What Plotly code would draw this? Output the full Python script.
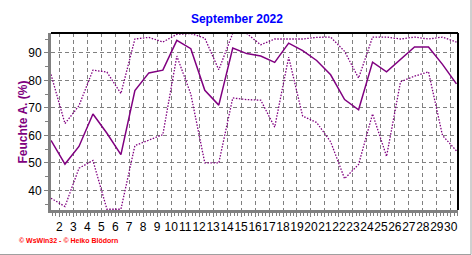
import plotly.graph_objects as go

days = list(range(1, 31))
tick_labels = [str(d) for d in range(2, 31)]
mean_vals = [58.2, 49.6, 56.0, 67.8, 60.8, 53.0, 76.3, 82.7, 83.7, 94.5,
             91.5, 76.4, 71.0, 91.7, 89.7, 88.8, 86.5, 93.5, 90.8, 87.2,
             82.0, 73.0, 69.3, 86.6, 83.1, 87.6, 92.1, 92.1, 85.8, 78.7]
max_vals = [82.1, 64.3, 70.8, 83.7, 83.0, 75.2, 95.0, 95.6, 93.9, 96.7,
            97.0, 95.3, 83.8, 97.1, 97.0, 92.9, 95.0, 95.0, 95.0, 95.6,
            95.7, 90.5, 80.8, 95.7, 95.7, 95.0, 95.7, 95.0, 95.7, 93.9]
min_vals = [37.2, 34.2, 48.1, 50.9, 33.2, 33.2, 56.3, 58.2, 60.3, 88.8,
            75.0, 50.0, 50.0, 73.6, 73.0, 72.8, 63.0, 88.4, 67.0, 64.7,
            57.7, 44.3, 49.5, 67.8, 52.4, 79.5, 81.5, 83.1, 60.0, 54.4]
y_ticks = [40, 50, 60, 70, 80, 90]

purple = "#800080"
tick_offset = 0.406
tickvals = [int(t) - tick_offset for t in tick_labels]
minor_vals = [1 + i * 0.25 - tick_offset for i in range(0, 122)]

fig = go.Figure()
fig.add_trace(go.Scatter(x=days, y=max_vals, mode="lines",
                         line=dict(color=purple, width=1.3, dash="1.5px,1.5px"),
                         hoverinfo="skip"))
fig.add_trace(go.Scatter(x=days, y=min_vals, mode="lines",
                         line=dict(color=purple, width=1.3, dash="1.5px,1.5px"),
                         hoverinfo="skip"))
fig.add_trace(go.Scatter(x=days, y=mean_vals, mode="lines",
                         line=dict(color=purple, width=1.5),
                         hoverinfo="skip"))

font_name = "Liberation Sans, Arial, sans-serif"

fig.update_layout(
    width=472, height=255,
    margin=dict(l=51, r=14, t=33, b=45),
    paper_bgcolor="white", plot_bgcolor="white",
    showlegend=False,
    font=dict(family=font_name, size=12, color="black"),
    title=dict(text="<b>September 2022</b>", x=0.502, xanchor="center",
               y=1 - 19 / 255, yanchor="middle",
               font=dict(family=font_name, size=12, color="#0000FF")),
    xaxis=dict(range=[1, 30.11], tickmode="array", tickvals=tickvals,
               ticktext=tick_labels, tickangle=0, showgrid=True,
               gridcolor="#808080",
               griddash="4px,3px", gridwidth=1, zeroline=False,
               showline=True, linecolor="#808080", linewidth=3,
               ticks="outside", ticklen=4, tickcolor="#808080", tickwidth=1,
               minor=dict(tickmode="array", tickvals=minor_vals, ticks="outside",
                          ticklen=3, tickcolor="#808080", tickwidth=1,
                          showgrid=False),
               tickfont=dict(family=font_name, size=12, color="black"),
               fixedrange=True),
    yaxis=dict(range=[32.93, 97.18], tickmode="array", tickvals=y_ticks,
               showgrid=True, gridcolor="#808080", griddash="4px,3px",
               gridwidth=1, zeroline=False,
               showline=True, linecolor="#808080", linewidth=3,
               ticks="outside", ticklen=4, tickcolor="#808080", tickwidth=1,
               minor=dict(tickmode="linear", tick0=35, dtick=10, ticks="outside",
                          ticklen=3, tickcolor="#808080", tickwidth=1,
                          showgrid=False),
               tickfont=dict(family=font_name, size=12, color="black"),
               fixedrange=True),
)

# top and right black border
fig.add_shape(type="line", xref="paper", yref="paper", x0=0, x1=1, y0=1, y1=1,
              line=dict(color="black", width=2))
fig.add_shape(type="line", xref="paper", yref="paper", x0=1, x1=1, y0=0, y1=1,
              line=dict(color="black", width=2))
# outer gray frame (bottom and right of the image)
fx = (471 - 51) / 407
fy = (210 - 254.5) / 177
fig.add_shape(type="line", xref="paper", yref="paper", x0=-51 / 407, x1=fx,
              y0=fy, y1=fy, line=dict(color="#A0A0A0", width=1))
fig.add_shape(type="line", xref="paper", yref="paper", x0=fx, x1=fx,
              y0=fy, y1=(210) / 177, line=dict(color="#A0A0A0", width=1))

fig.add_annotation(text="<b>Feuchte A. (%)</b>", xref="paper", yref="paper",
                   x=(22 - 51) / 407, y=0.5, textangle=-90, showarrow=False,
                   xanchor="center", yanchor="middle",
                   font=dict(family=font_name, size=12, color=purple))
fig.add_annotation(text="<b>© WsWin32 - © Heiko Blödorn</b>", xref="paper",
                   yref="paper", x=(17 - 51) / 407, y=(210 - 240.7) / 177,
                   xanchor="left", yanchor="middle", showarrow=False,
                   font=dict(family=font_name, size=7, color="#FF0000"))

fig.write_html("out.html")
